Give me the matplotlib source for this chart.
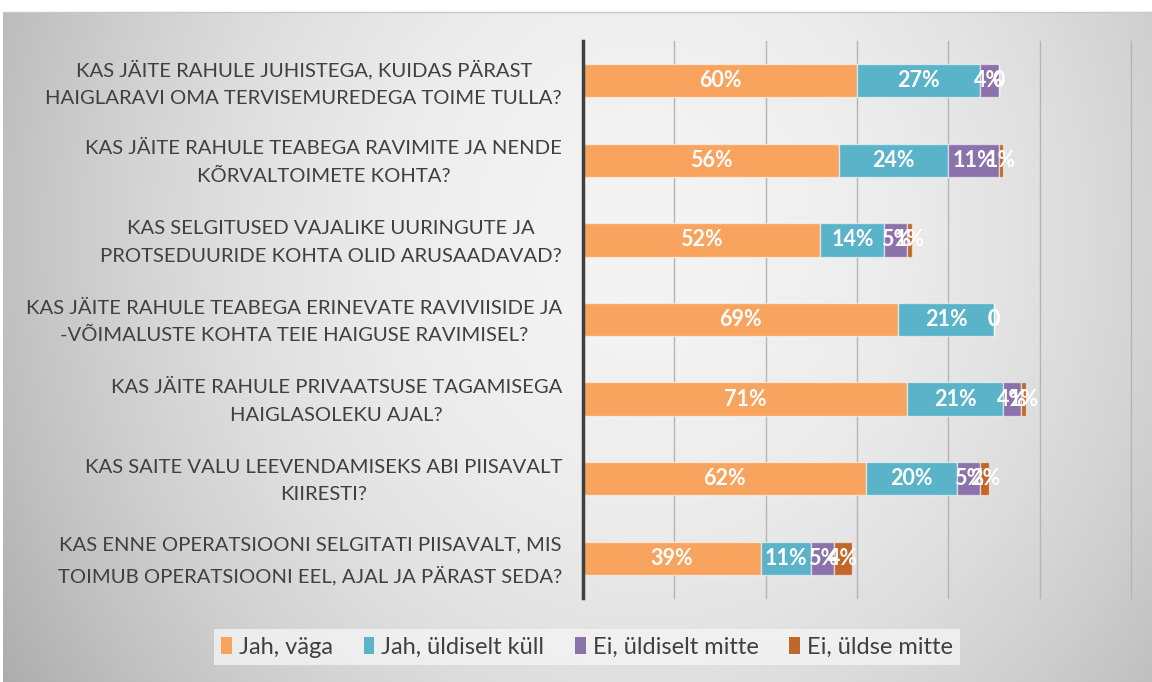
import numpy as np
import matplotlib
matplotlib.use("Agg")
import matplotlib.pyplot as plt
from matplotlib.patches import Patch
from matplotlib.transforms import blended_transform_factory

categories = [
    "KAS JÄITE RAHULE JUHISTEGA, KUIDAS PÄRAST\nHAIGLARAVI OMA TERVISEMUREDEGA TOIME TULLA?",
    "KAS JÄITE RAHULE TEABEGA RAVIMITE JA NENDE\nKÕRVALTOIMETE KOHTA?",
    "KAS SELGITUSED VAJALIKE UURINGUTE JA\nPROTSEDUURIDE KOHTA OLID ARUSAADAVAD?",
    "KAS JÄITE RAHULE TEABEGA ERINEVATE RAVIVIISIDE JA\n-VÕIMALUSTE KOHTA TEIE HAIGUSE RAVIMISEL?",
    "KAS JÄITE RAHULE PRIVAATSUSE TAGAMISEGA\nHAIGLASOLEKU AJAL?",
    "KAS SAITE VALU LEEVENDAMISEKS ABI PIISAVALT\nKIIRESTI?",
    "KAS ENNE OPERATSIOONI SELGITATI PIISAVALT, MIS\nTOIMUB OPERATSIOONI EEL, AJAL JA PÄRAST SEDA?",
]
series_names = ["Jah, väga", "Jah, üldiselt küll", "Ei, üldiselt mitte", "Ei, üldse mitte"]
jah_vaga = [60, 56, 52, 69, 71, 62, 39]
jah_uldiselt = [27, 24, 14, 21, 21, 20, 11]
ei_uldiselt = [4, 11, 5, 0, 4, 5, 5]
ei_uldse = [0, 1, 1, 0, 1, 2, 4]
colors = ["#F8A35E", "#5BB3C9", "#8C72AA", "#C0682B"]

plt.rcParams["font.family"] = ["Lato", "DejaVu Sans"]

W, H = 1152, 682
fig = plt.figure(figsize=(W / 100, H / 100), dpi=100)
fig.patch.set_facecolor("white")

# background gradient
bg = fig.add_axes([3 / W, 0, 1 - 3 / W, (H - 12) / H], zorder=-10)
yy, xx = np.mgrid[0:670, 0:1149]
r2 = ((xx - 640) / 640.0) ** 2 + ((yy - 220) / 720.0) ** 2
val = np.clip(0.955 - 0.2 * r2, 0, 1)
bg.imshow(np.dstack([val, val, val]), aspect="auto", extent=[0, 1, 0, 1])
bg.set_axis_off()
fig.add_artist(plt.Line2D([3 / W, 1], [1 - 12 / H, 1 - 12 / H], color="#c8c8c8", lw=1))

ax = fig.add_axes([583 / W, 1 - 598 / H, (1131 - 583) / W, (598 - 41) / H])
ax.set_facecolor("none")

y = np.arange(len(categories))
data = [jah_vaga, jah_uldiselt, ei_uldiselt, ei_uldse]
left = np.zeros(len(categories))
for vals, c, name in zip(data, colors, series_names):
    vals = np.array(vals, dtype=float)
    ax.barh(y, vals, left=left, height=0.42, color=c, edgecolor=(1, 1, 1, 0.55),
            linewidth=1, label=name, zorder=3)
    for yi, l, v in zip(y, left, vals):
        txt = "0" if v == 0 else f"{int(v)}%"
        ax.text(l + v / 2, yi, txt, ha="center", va="center", color="white",
                fontsize=15.5, fontweight="bold", zorder=5)
    left += vals

ax.set_xlim(0, 120)
ax.set_ylim(len(categories) - 0.5, -0.5)
ax.set_xticks(np.arange(0, 121, 20))
ax.xaxis.grid(True, color="#b5b5b5", lw=1, zorder=0)
for gl in ax.get_xgridlines():
    gl.set_clip_on(False)
ax.tick_params(axis="x", length=0, labelbottom=False)
ax.tick_params(axis="y", length=0, labelleft=False)
ax.set_yticks(y)

trans = blended_transform_factory(ax.transAxes, ax.transData)
for yi, cat in zip(y, categories):
    ax.text(-21 / 548, yi + 0.03, cat, transform=trans, ha="right", va="center",
            multialignment="center", fontsize=14.6, color="#404040",
            linespacing=1.75)

for s in ["top", "right", "bottom"]:
    ax.spines[s].set_visible(False)
ax.spines["left"].set_color("#404040")
ax.spines["left"].set_linewidth(2.5)
ax.spines["left"].set_zorder(6)

handles = [Patch(facecolor=c, edgecolor="none") for c in colors]
leg = fig.legend(handles, series_names, loc="center", ncol=4,
                 bbox_to_anchor=(587 / W, 1 - 647 / H), frameon=True,
                 fontsize=17, handlelength=0.45, handleheight=0.75,
                 handletextpad=0.3, columnspacing=1.3, borderpad=0.3,
                 borderaxespad=0, labelcolor="#404040", fancybox=False)
leg.get_frame().set_facecolor("#f4f4f4")
leg.get_frame().set_edgecolor("none")
leg.get_frame().set_alpha(0.8)

fig.savefig("out.png", dpi=100)
